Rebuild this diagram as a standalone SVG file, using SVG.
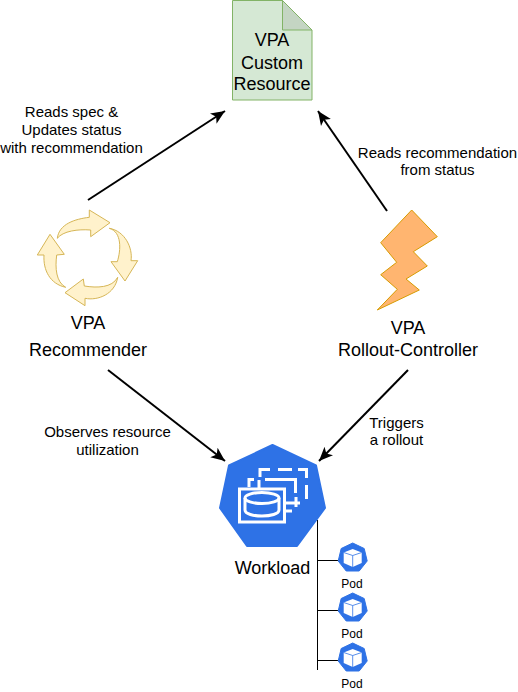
<svg xmlns="http://www.w3.org/2000/svg" width="518" height="692" viewBox="0 0 518 692">
<style>
text{font-family:"Liberation Sans",Arial,sans-serif;fill:#000;text-anchor:middle}
.l{font-size:18px}.s{font-size:15px}.p{font-size:12px}
.c{stroke:#000;stroke-width:2;fill:none}
.t{stroke:#000;stroke-width:1;fill:none}
.y{fill:#fff2cc;stroke:#d6b656;stroke-width:1}
.ic{fill:none;stroke:#fff;stroke-width:3}
</style>
<defs>
<marker id="a" markerUnits="userSpaceOnUse" markerWidth="16" markerHeight="14" refX="14" refY="6" orient="auto" viewBox="0 0 16 12"><path d="M0 0L14 6L0 12L3.500 6Z" fill="#000"/></marker>
<g id="pod"><path d="M0-15L11.500-9.500L14.500 3L6.500 13H-6.500L-14.500 3L-11.500-9.500Z" fill="#2e72e6" stroke="#2e72e6" stroke-linejoin="round"/><path d="M0-9L9-5.500V5L0 9L-9 5V-5.500Z" fill="#fff"/><path d="M-9-5.500L0-2.500L9-5.500M0-2.500V9" fill="none" stroke="#2e72e6" stroke-width=".8"/></g>
</defs>
<g id="connectors">
<path class="c" d="M88 200L225 111" marker-end="url(#a)"/>
<path class="c" d="M387 211L318 111" marker-end="url(#a)"/>
<path class="c" d="M108 370L225 461" marker-end="url(#a)"/>
<path class="c" d="M408 370L319 461" marker-end="url(#a)"/>
<path class="t" d="M317.500 520V670M317.500 560.500H338M317.500 610.500H338M317.500 660.500H338"/>
</g>
<g id="resource">
<path d="M232.500.5H282.500L312 30V100H232.500Z" fill="#d5e8d4" stroke="#82b366" stroke-width="1"/>
<path d="M282.500.5V30H312Z" fill="#c4d5c3" stroke="#82b366" stroke-width="1"/>
<text class="l" x="272" y="46">VPA</text><text class="l" x="272" y="69">Custom</text><text class="l" x="272" y="90">Resource</text>
</g>
<g id="recommender">
<path class="y" d="M57.300 238.300C59 224 75 219 89.300 217.300V210L110 222.700L90.700 236.700V230C78 229 63 231 57.300 238.300Z"/>
<path class="y" d="M109.300 228.300C122 232 121 250 117.300 261.700H111L125 281L137.700 260.700H131C133 248 125 231 109.300 228.300Z"/>
<path class="y" d="M117.700 277.300C112 288 97 288 84.300 286L83.300 279L65 292.700L85 305.700V298.300C98 301 115 294 117.700 277.300Z"/>
<path class="y" d="M65.700 287.300C56 282 55 268 56.700 255L64.300 254.300L50 234.300L37.300 255H44C43 270 50 284 65.700 287.300Z"/>
<text class="l" x="88" y="329">VPA</text><text class="l" x="88" y="356">Recommender</text>
</g>
<g id="rollout-controller">
<path d="M411.700 210L437.300 236.700L413.300 251.700L427.300 266L406 279L419.300 290L377.300 310L397.300 289.300L380.700 274.700L396.700 262.300L380.700 242.700Z" fill="#ffb570" stroke="#d79b00" stroke-width="1"/>
<text class="l" x="408" y="334">VPA</text><text class="l" x="408" y="356">Rollout-Controller</text>
</g>
<g id="workload">
<path d="M272.500 445L316 465.500L325 508L297 546H247L220 508L229 465.500Z" fill="#2e72e6" stroke="#2e72e6" stroke-width="2" stroke-linejoin="round"/>
<rect x="239.500" y="489" width="45" height="33" fill="none" stroke="#fff" stroke-width="3"/>
<ellipse cx="262" cy="498" rx="17" ry="5.500" class="ic"/><path class="ic" d="M245 498V510C245 518 279 518 279 510V498"/>
<path class="ic" d="M249 487V479.500H254M259 480V488M265 479.500H289M289 479.500H295.500V493M285 503H300M296 497V507M285 511H292"/>
<path class="ic" d="M260 477V469.500H270M278 469.500H292M298 469.500H306.500V478M306.500 485V499"/>
<text class="l" x="272.500" y="574">Workload</text>
</g>
<g id="pod1"><use href="#pod" x="352.700" y="558"/><text class="p" x="352" y="588">Pod</text></g>
<g id="pod2"><use href="#pod" x="352.700" y="608"/><text class="p" x="352" y="638">Pod</text></g>
<g id="pod3"><use href="#pod" x="352.700" y="658"/><text class="p" x="352" y="688">Pod</text></g>
<g id="labels">
<text class="s" x="71.500" y="117">Reads spec &amp;</text><text class="s" x="71.500" y="135">Updates status</text><text class="s" x="71.500" y="152.500">with recommendation</text>
<text class="s" x="437.500" y="158">Reads recommendation</text><text class="s" x="437.500" y="175">from status</text>
<text class="s" x="107.500" y="437">Observes resource</text><text class="s" x="107.500" y="455">utilization</text>
<text class="s" x="396.500" y="428">Triggers</text><text class="s" x="396.500" y="445">a rollout</text>
</g>
</svg>
